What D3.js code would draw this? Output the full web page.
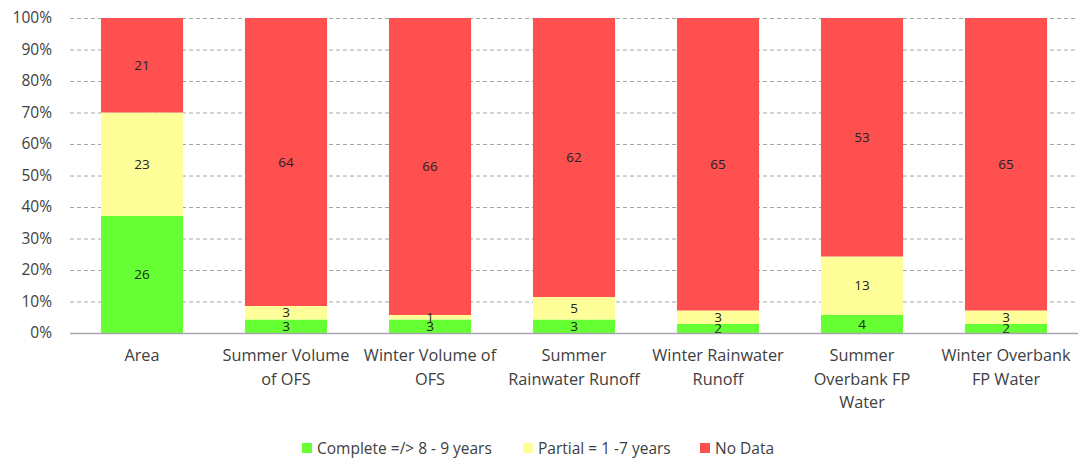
<!DOCTYPE html>
<html><head><meta charset="utf-8">
<script src="https://cdn.jsdelivr.net/npm/d3@7"></script>
<style>body{margin:0;background:#fff}svg{display:block;font-family:"Open Sans",Lato,sans-serif}</style>
</head><body><svg id="c" width="1078" height="462"></svg>
<script>
const categories = [["Area"],["Summer Volume","of OFS"],["Winter Volume of","OFS"],["Summer","Rainwater Runoff"],["Winter Rainwater","Runoff"],["Summer","Overbank FP","Water"],["Winter Overbank","FP Water"]];
const seriesNames = ["Complete =/> 8 - 9 years","Partial = 1 -7 years","No Data"];
const complete = [26,3,3,3,2,4,2];
const partial = [23,3,1,5,3,13,3];
const noData = [21,64,66,62,65,53,65];
const yTicks = [0,0.1,0.2,0.3,0.4,0.5,0.6,0.7,0.8,0.9,1];
const colors = ["#66ff33","#ffff99","#ff5050"];

const svg = d3.select("#c");
const L=70,R=1078,T=18,B=333;
const keys = categories.map((c,i)=>i);
const x = d3.scaleBand().domain(keys).range([L,R]).paddingInner(0.43).paddingOuter(0.215);
const y = d3.scaleLinear().domain([0,1]).range([B,T]);

// grid
svg.append("g").selectAll("line").data(yTicks.filter(t=>t>0)).join("line")
 .attr("x1",L).attr("x2",R).attr("y1",d=>y(d)+0.5).attr("y2",d=>y(d)+0.5)
 .attr("stroke","#a6a6a6").attr("stroke-dasharray","4,3");

const yAxis = svg.append("g").attr("transform",`translate(${L},0)`)
 .call(d3.axisLeft(y).tickValues(yTicks).tickFormat(d3.format(".0%")).tickSize(0).tickPadding(18));
yAxis.select(".domain").remove();
yAxis.selectAll("text").attr("font-size",15.5).attr("font-family","'Open Sans',sans-serif").attr("fill","#404040");

const rows = keys.map(i=>({i,v:[complete[i],partial[i],noData[i]]}));
const stackData = rows.map(r=>{const t=d3.sum(r.v);return {i:r.i,a:r.v[0]/t,b:r.v[1]/t,c:r.v[2]/t};});
const stack = d3.stack().keys(["a","b","c"])(stackData);

stack.forEach((layer,k)=>{
  const g = svg.append("g");
  g.selectAll("rect").data(layer).join("rect")
   .attr("x",d=>x(d.data.i)).attr("width",x.bandwidth())
   .attr("y",d=>y(d[1])).attr("height",d=>y(d[0])-y(d[1]))
   .attr("fill",colors[k]);
});
stack.forEach((layer,k)=>{
  const vals=[complete,partial,noData][k];
  svg.append("g").selectAll("text").data(layer).join("text")
   .attr("x",d=>x(d.data.i)+x.bandwidth()/2)
   .attr("y",d=>(y(d[0])+y(d[1]))/2)
   .attr("dy","0.35em").attr("text-anchor","middle").attr("font-size",13.5).attr("fill","#222")
   .text(d=>vals[d.data.i]);
});

// x axis line
svg.append("line").attr("x1",L).attr("x2",R).attr("y1",B+0.5).attr("y2",B+0.5).attr("stroke","#a6a6a6").attr("stroke-width",1.5);

// category labels
const xl = svg.append("g");
keys.forEach(i=>{
  const t = xl.append("text").attr("text-anchor","middle").attr("font-size",16.3).attr("fill","#404040")
   .attr("x",x(i)+x.bandwidth()/2);
  categories[i].forEach((line,j)=>{
    t.append("tspan").attr("x",x(i)+x.bandwidth()/2).attr("y",361+j*23.5).text(line);
  });
});

// legend
const legX=[302,523,700];
const lg = svg.append("g");
seriesNames.forEach((n,k)=>{
  lg.append("rect").attr("x",legX[k]).attr("y",443).attr("width",10).attr("height",10).attr("fill",colors[k]);
  lg.append("text").attr("x",legX[k]+15).attr("y",454).attr("font-size",15.5).attr("fill","#404040").text(n);
});
</script></body></html>
